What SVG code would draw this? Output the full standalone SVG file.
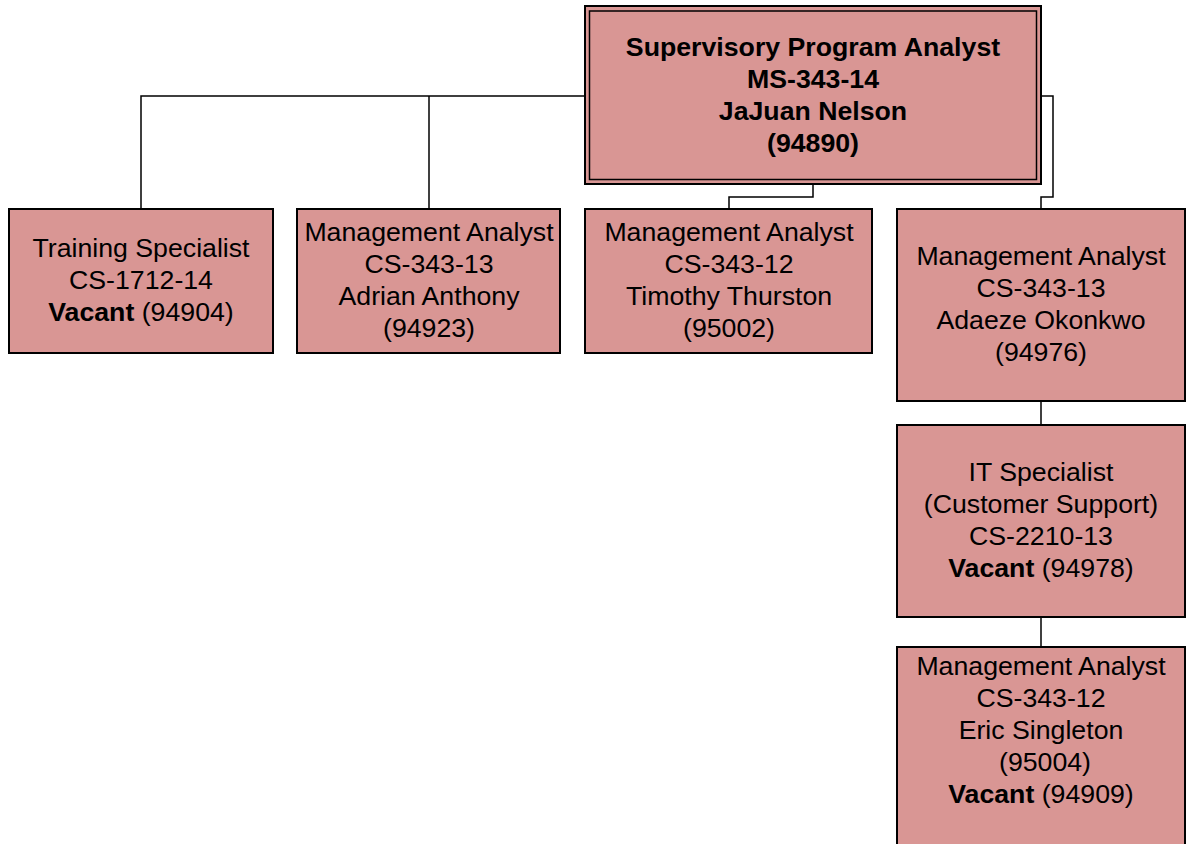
<svg xmlns="http://www.w3.org/2000/svg" width="1188" height="844" viewBox="0 0 1188 844">
<style>
.box{fill:#D99694;stroke:#000;stroke-width:2}
.in{fill:none;stroke:#000;stroke-width:1.5}
.c{fill:none;stroke:#000;stroke-width:1.5}
text{font-family:"Liberation Sans",Arial,sans-serif;font-size:26.7px;fill:#000;text-anchor:middle}
.b{font-weight:bold}
</style>
<rect width="1188" height="844" fill="#fff"/>
<g id="connectors">
<polyline class="c" points="585,96 141,96 141,208"/>
<line class="c" x1="429" y1="96" x2="429" y2="208"/>
<polyline class="c" points="813,184 813,197 729,197 729,208"/>
<polyline class="c" points="1041,96 1053,96 1053,197 1041,197 1041,208"/>
<line class="c" x1="1041" y1="401" x2="1041" y2="425"/>
<line class="c" x1="1041" y1="617" x2="1041" y2="647"/>
</g>
<g id="n0">
<rect class="box" x="585" y="6" width="456" height="178"/>
<rect class="in" x="589.5" y="11" width="447" height="168.5"/>
<text class="b" x="813" y="56">Supervisory Program Analyst</text>
<text class="b" x="813" y="88">MS-343-14</text>
<text class="b" x="813" y="120">JaJuan Nelson</text>
<text class="b" x="813" y="152">(94890)</text>
</g>
<g id="n1">
<rect class="box" x="9" y="209" width="264" height="144"/>
<text x="141" y="257">Training Specialist</text>
<text x="141" y="289">CS-1712-14</text>
<text x="141" y="321"><tspan class="b">Vacant</tspan> (94904)</text>
</g>
<g id="n2">
<rect class="box" x="297" y="209" width="263" height="144"/>
<text x="429" y="241">Management Analyst</text>
<text x="429" y="273">CS-343-13</text>
<text x="429" y="305">Adrian Anthony</text>
<text x="429" y="337">(94923)</text>
</g>
<g id="n3">
<rect class="box" x="585" y="209" width="287" height="144"/>
<text x="729" y="241">Management Analyst</text>
<text x="729" y="273">CS-343-12</text>
<text x="729" y="305">Timothy Thurston</text>
<text x="729" y="337">(95002)</text>
</g>
<g id="n4">
<rect class="box" x="897" y="209" width="288" height="192"/>
<text x="1041" y="265">Management Analyst</text>
<text x="1041" y="297">CS-343-13</text>
<text x="1041" y="329">Adaeze Okonkwo</text>
<text x="1041" y="361">(94976)</text>
</g>
<g id="n5">
<rect class="box" x="897" y="425" width="288" height="192"/>
<text x="1041" y="481">IT Specialist</text>
<text x="1041" y="513">(Customer Support)</text>
<text x="1041" y="545">CS-2210-13</text>
<text x="1041" y="577"><tspan class="b">Vacant</tspan> (94978)</text>
</g>
<g id="n6">
<rect class="box" x="897" y="647" width="288" height="210"/>
<text x="1041" y="675">Management Analyst</text>
<text x="1041" y="707">CS-343-12</text>
<text x="1041" y="739">Eric Singleton</text>
<text x="1045" y="771">(95004)</text>
<text x="1041" y="803"><tspan class="b">Vacant</tspan> (94909)</text>
</g>
</svg>
